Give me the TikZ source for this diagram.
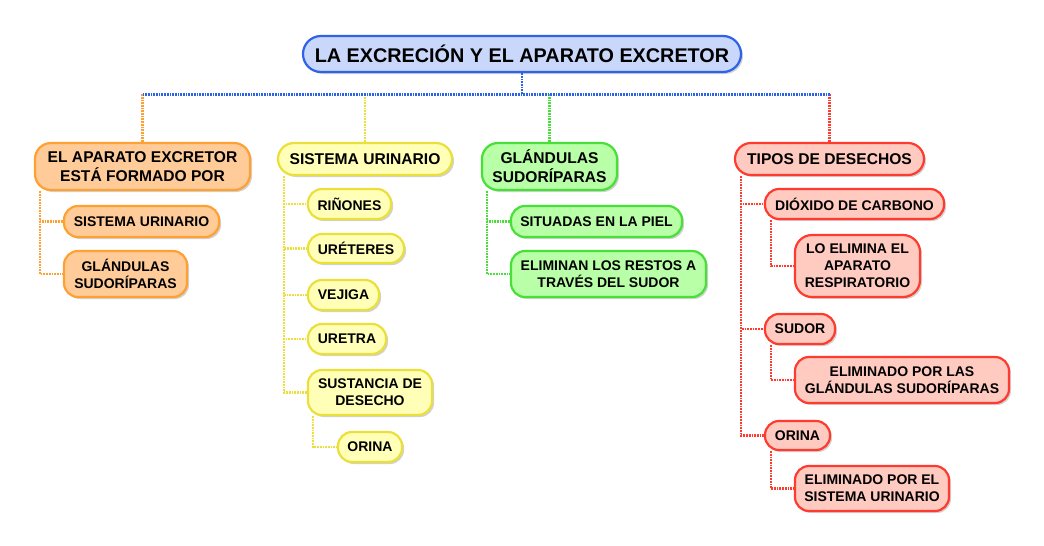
\documentclass[tikz,border=0pt]{standalone}
\usepackage{fontspec}
\setmainfont{Liberation Sans}
\usetikzlibrary{shadows,backgrounds}
\definecolor{bfill}{HTML}{C9D7FB}\definecolor{bline}{HTML}{2E62E8}
\definecolor{ofill}{HTML}{FFCC99}\definecolor{oline}{HTML}{FFA033}
\definecolor{yfill}{HTML}{FFFFB8}\definecolor{yline}{HTML}{EBDF3A}
\definecolor{gfill}{HTML}{B8FFA8}\definecolor{gline}{HTML}{48E038}
\definecolor{rfill}{HTML}{FFCAC0}\definecolor{rline}{HTML}{FF3B2F}
\begin{document}
\begin{tikzpicture}[x=1pt,y=-1pt,
  box/.style={draw=#1line, fill=#1fill, line width=2.2pt, rounded corners=14pt,
    inner sep=0pt, align=center,
    font=\bfseries\fontsize{14}{17}\selectfont,
    drop shadow={shadow xshift=2pt, shadow yshift=-2pt, opacity=0.3, fill=black!60}},
  topbox/.style={box=#1, font=\bfseries\fontsize{15.6}{19}\selectfont, rounded corners=16pt},
  conn/.style={draw=#1line, line width=2.8pt, dash pattern=on 1.7pt off 1pt},
  sz/.style 2 args={minimum width=#1pt, minimum height=#2pt}]
\useasboundingbox (0,0) rectangle (1044,546);

\node[box=b, sz={438}{36}, rounded corners=18pt, font=\bfseries\fontsize{19.8}{23}\selectfont] (title) at (522,54) {LA EXCRECIÓN Y EL APARATO EXCRETOR};

% orange
\node[topbox=o, sz={215}{47}] (o1) at (142.5,166.5) {EL APARATO EXCRETOR\\ESTÁ FORMADO POR};
\node[box=o, sz={155}{31}] (o2) at (141.5,221.5) {SISTEMA URINARIO};
\node[box=o, sz={123}{46}] (o3) at (125.5,274) {GLÁNDULAS\\SUDORÍPARAS};

% yellow
\node[topbox=y, sz={174}{32}] (y1) at (365,159) {SISTEMA URINARIO};
\node[box=y, sz={83}{30}] (y2) at (349.5,204) {RIÑONES};
\node[box=y, sz={96}{29}] (y3) at (356,248.5) {URÉTERES};
\node[box=y, sz={71}{30}] (y4) at (343.5,295) {VEJIGA};
\node[box=y, sz={78}{30}] (y5) at (347,339) {URETRA};
\node[box=y, sz={124}{45}] (y6) at (370,392.5) {SUSTANCIA DE\\DESECHO};
\node[box=y, sz={64}{30}] (y7) at (370,447) {ORINA};

% green
\node[topbox=g, sz={135}{47}] (g1) at (549.5,166.5) {GLÁNDULAS\\SUDORÍPARAS};
\node[box=g, sz={171}{31}] (g2) at (596.5,221.5) {SITUADAS EN LA PIEL};
\node[box=g, sz={195}{46}] (g3) at (608.5,274) {ELIMINAN LOS RESTOS A\\TRAVÉS DEL SUDOR};

% red
\node[topbox=r, sz={189}{32}] (r1) at (829.5,159) {TIPOS DE DESECHOS};
\node[box=r, sz={179}{30}] (r2) at (854.5,204) {DIÓXIDO DE CARBONO};
\node[box=r, sz={125}{62}, rounded corners=17pt] (r3) at (857.5,266) {LO ELIMINA EL\\APARATO\\RESPIRATORIO};
\node[box=r, sz={70}{30}] (r4) at (800,329) {SUDOR};
\node[box=r, sz={214}{46}] (r5) at (902,380) {ELIMINADO POR LAS\\GLÁNDULAS SUDORÍPARAS};
\node[box=r, sz={65}{29}] (r6) at (797.5,435.5) {ORINA};
\node[box=r, sz={154}{45}] (r7) at (872,488.5) {ELIMINADO POR EL\\SISTEMA URINARIO};

\begin{pgfonlayer}{background}
  \draw[conn=b] (title.south) -- ++(0,21) coordinate (hub);
  \draw[conn=o] (o1.north |- hub) -- (o1.north);
  \draw[conn=y] (y1.north |- hub) -- (y1.north);
  \draw[conn=g] (g1.north |- hub) -- (g1.north);
  \draw[conn=r] (r1.north |- hub) -- (r1.north);
  \draw[conn=b] (o1.north |- hub) -- (r1.north |- hub);

  \draw[conn=o] ([xshift=6pt]o1.south west) |- (o2.west);
  \draw[conn=o] ([xshift=6pt]o1.south west) |- (o3.west);

  \foreach \n in {y2,y3,y4,y5,y6}
    \draw[conn=y] ([xshift=7pt]y1.south west) |- (\n.west);
  \draw[conn=y] ([xshift=6pt]y6.south west) |- (y7.west);

  \draw[conn=g] ([xshift=6pt]g1.south west) |- (g2.west);
  \draw[conn=g] ([xshift=6pt]g1.south west) |- (g3.west);

  \foreach \n in {r2,r4,r6}
    \draw[conn=r] ([xshift=7pt]r1.south west) |- (\n.west);
  \draw[conn=r] ([xshift=7pt]r2.south west) |- (r3.west);
  \draw[conn=r] ([xshift=7pt]r4.south west) |- (r5.west);
  \draw[conn=r] ([xshift=7pt]r6.south west) |- (r7.west);
\end{pgfonlayer}
\end{tikzpicture}
\end{document}
